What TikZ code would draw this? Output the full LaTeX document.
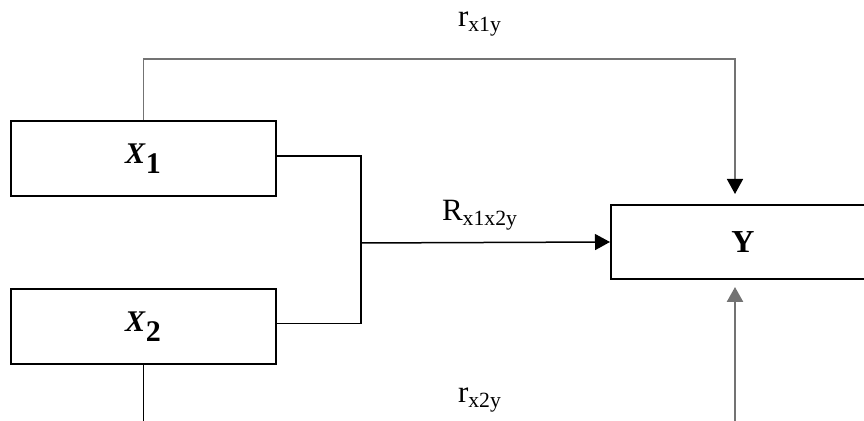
\documentclass[tikz,border=0pt]{standalone}
\usepackage{fontspec}
\setmainfont{Liberation Serif}
\usetikzlibrary{arrows.meta}

\begin{document}
\begin{tikzpicture}[x=0.5pt, y=-0.5pt,
  box/.style={draw, line width=1pt, minimum width=132.5pt, minimum height=37.5pt,
    inner sep=0pt, font=\fontsize{15}{18}\selectfont},
  link/.style={line width=0.75pt},
  greylink/.style={line width=0.75pt, draw=black!55},
  tip/.style={-{Triangle[length=7.5pt,width=8pt]}},
  blacktip/.style={-{Triangle[length=7.5pt,width=8pt,black]}},
  lbl/.style={anchor=base, inner sep=0pt, font=\fontsize{15.5}{18}\selectfont}]
\useasboundingbox (0,0) rectangle (864,421);
\clip (0,0) rectangle (864,421);

\node[box] (x1) at (143.5,158.5) {$\textbf{\textit{X}}_{\textbf{1}}$};
\node[box] (x2) at (143.5,326.5) {$\textbf{\textit{X}}_{\textbf{2}}$};
\node[box, minimum width=132pt, minimum height=37pt, font=\fontsize{16}{18}\selectfont] (y) at (743,242) {\textbf{Y}};

\coordinate (top) at (735,59);
\coordinate (j) at (361,243);
\coordinate (b1) at (142,421);
\coordinate (b2) at (735,421);

% r x1y
\draw[greylink, blacktip, shorten >=5pt] (x1.north) |- (top) -- (top |- y.north);
% R x1x2y
\draw[link] ([yshift=1.25pt]x1.east) -| (j) |- ([yshift=1.5pt]x2.east);
\draw[link, tip] (j) -- (y.west);
% r x2y
\draw[link] (x2.south) -- (x2.south |- b1);
\draw[greylink, line width=1.25pt, tip, shorten >=3.5pt] (b2) -- (b2 |- y.south);

\node[lbl] (rx1y) at (480,27) {r\textsubscript{x1y}};
\node[lbl] (rx1x2y) at (480,221) {R\textsubscript{x1x2y}};
\node[lbl] (rx2y) at (480,403) {r\textsubscript{x2y}};
\end{tikzpicture}
\end{document}
